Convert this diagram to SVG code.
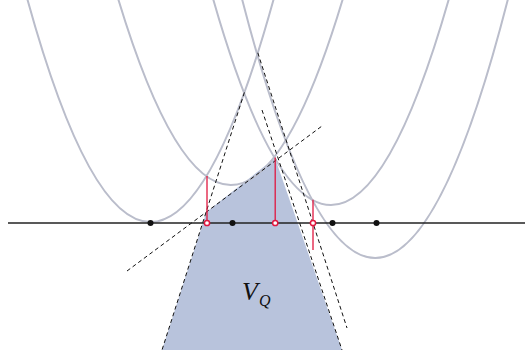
<svg xmlns="http://www.w3.org/2000/svg" width="526" height="360" viewBox="0 0 526 360">
<style>
.par{fill:none;stroke:#babdcb;stroke-width:2}
.dash{fill:none;stroke:#111;stroke-width:1;stroke-dasharray:4 3}
.red{stroke:#e0173f;stroke-width:1.3}
.rdot{fill:#fff;stroke:#e0173f;stroke-width:1.5}
.bdot{fill:#111}
</style>
<rect width="526" height="360" fill="#fff"/>
<g id="region-VQ">
<polygon points="162,350 206.4,212 275,158 342,350" fill="#b8c3dc"/>
<text x="242" y="300" font-family="Liberation Serif, serif" font-style="italic" font-size="26" fill="#111">V</text>
<text x="259" y="306" font-family="Liberation Serif, serif" font-style="italic" font-size="16" fill="#111">Q</text>
</g>
<g id="parabolas">
<path id="P1" class="par" d="M26.2,-5 Q150.5,449 274.8,-5"/>
<path id="P2" class="par" d="M117,-5 Q231,375 344,-5"/>
<path id="P3" class="par" d="M212,-5 Q331,415 450,-5"/>
<path id="P4" class="par" d="M241,-5 Q375.5,521 509,-5"/>
</g>
<g id="connectors">
<line class="dash" x1="244.4" y1="92.4" x2="162" y2="350"/>
<line class="dash" x1="127" y1="271" x2="322" y2="126"/>
<line class="dash" x1="262" y1="110" x2="342" y2="350"/>
<line class="dash" x1="257.8" y1="52.8" x2="347" y2="328"/>
<line class="red" x1="207" y1="176" x2="207" y2="223"/>
<line class="red" x1="275.2" y1="157.6" x2="275.2" y2="223"/>
<line class="red" x1="313" y1="199.7" x2="313" y2="250"/>
</g>
<g id="axis">
<line x1="8" y1="223" x2="525" y2="223" stroke="#222" stroke-width="1.6"/>
</g>
<g id="points">
<circle class="bdot" cx="150.5" cy="223" r="3"/>
<circle class="bdot" cx="232.5" cy="223" r="3"/>
<circle class="bdot" cx="332.5" cy="223" r="3"/>
<circle class="bdot" cx="376.5" cy="223" r="3"/>
<circle class="rdot" cx="207" cy="223" r="2.6"/>
<circle class="rdot" cx="275.2" cy="223" r="2.6"/>
<circle class="rdot" cx="313" cy="223" r="2.6"/>
</g>
</svg>
